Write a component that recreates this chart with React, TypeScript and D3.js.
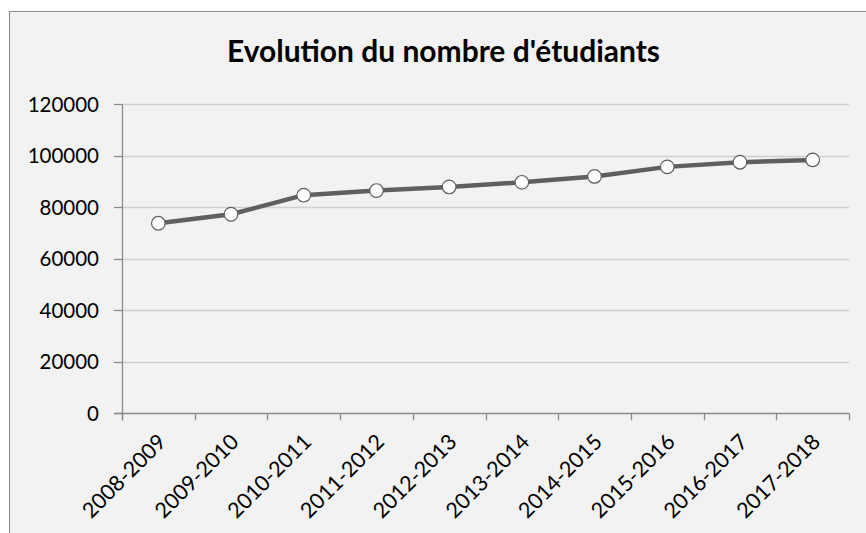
import React from "react";
import * as d3 from "d3";

const categories = ["2008-2009","2009-2010","2010-2011","2011-2012","2012-2013","2013-2014","2014-2015","2015-2016","2016-2017","2017-2018"];
const students = [73800, 77300, 84700, 86500, 87900, 89700, 92000, 95700, 97500, 98400];
const yTicks = [0, 20000, 40000, 60000, 80000, 100000, 120000];
const title = "Evolution du nombre d'étudiants";

const W = 866, H = 533;
const left = 122, right = 849, top = 104.3, bottom = 413.3;
const FONT = "Lato, 'Open Sans', sans-serif";

export default function App() {
  const x = d3.scaleBand<string>().domain(categories).range([left, right]).padding(0);
  const y = d3.scaleLinear().domain([0, 120000]).range([bottom, top]);
  const cx = (c: string) => (x(c) as number) + x.bandwidth() / 2;
  const line = d3.line<number>().x((_, i) => cx(categories[i])).y(d => y(d));
  const boundaries = categories.map(c => x(c) as number).concat([right]);

  return (
    <svg width={W} height={H} style={{ position: "absolute", left: 0, top: 0 }}>
      <rect x={0} y={0} width={W} height={H} fill="#ffffff" />
      <rect x={9.5} y={11.5} width={W + 20} height={H + 20} fill="#f2f2f2" stroke="#8c8c8c" strokeWidth={1} />
      <text x={443.5} y={62} textAnchor="middle" fontFamily={FONT} fontWeight="bold" fontSize={29.5} textLength={433} lengthAdjust="spacingAndGlyphs" fill="#000">{title}</text>
      {yTicks.map(t => (
        <g key={t}>
          {t > 0 && <line x1={left} x2={right} y1={Math.round(y(t)) + 0.5} y2={Math.round(y(t)) + 0.5} stroke="#d0d0d0" strokeWidth={1.3} />}
          <line x1={left - 8} x2={left} y1={Math.round(y(t)) + 0.5} y2={Math.round(y(t)) + 0.5} stroke="#8a8a8a" strokeWidth={1.3} />
          <text x={99} y={y(t)} dy="0.36em" textAnchor="end" fontFamily={FONT} fontSize={20.5} fill="#000">{t}</text>
        </g>
      ))}
      <line x1={left + 0.5} x2={left + 0.5} y1={top} y2={bottom + 7} stroke="#8a8a8a" strokeWidth={1.3} />
      <line x1={left - 8} x2={right} y1={Math.round(bottom) + 0.5} y2={Math.round(bottom) + 0.5} stroke="#8a8a8a" strokeWidth={1.3} />
      {boundaries.map((b, i) => (
        <line key={i} x1={Math.round(b) + 0.5} x2={Math.round(b) + 0.5} y1={bottom} y2={bottom + 7} stroke="#8a8a8a" strokeWidth={1.3} />
      ))}
      {categories.map(c => (
        <text key={c} transform={`translate(${cx(c) + 9},${bottom + 30}) rotate(-45)`} textAnchor="end" fontFamily={FONT} fontSize={21.5} fill="#000">{c}</text>
      ))}
      <path d={line(students) as string} fill="none" stroke="#5f5f5f" strokeWidth={4.5} strokeLinejoin="round" />
      {students.map((v, i) => (
        <circle key={i} cx={cx(categories[i])} cy={y(v)} r={6.8} fill="#ffffff" stroke="#5f5f5f" strokeWidth={1.2} />
      ))}
    </svg>
  );
}
